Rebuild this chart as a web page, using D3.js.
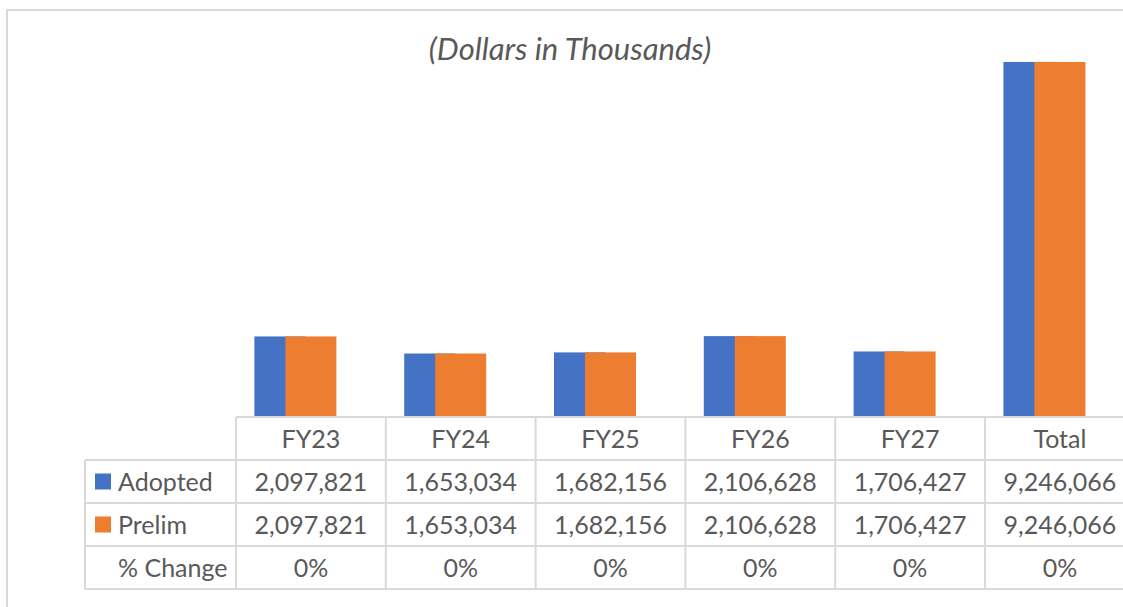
<!DOCTYPE html>
<html>
<head>
<meta charset="utf-8">
<script src="https://cdn.jsdelivr.net/npm/d3@7"></script>
<style>
  body { margin: 0; background: #fff; }
  svg text { font-family: Lato, "Open Sans", sans-serif; fill: #595959; }
</style>
</head>
<body>
<div id="plot"></div>
<script>
var width = 1123;
var height = 607;

// data
var categories = ['FY23', 'FY24', 'FY25', 'FY26', 'FY27', 'Total'];
var adopted = [2097821, 1653034, 1682156, 2106628, 1706427, 9246066];
var prelim  = [2097821, 1653034, 1682156, 2106628, 1706427, 9246066];
var pct_change = ['0%', '0%', '0%', '0%', '0%', '0%'];
var series_names = ['Adopted', 'Prelim', '% Change'];
var series_colors = ['#4472c4', '#ed7d31'];

var baseline = 417;
var row_h = 43;
var col_w = 149.8;
var table_left = 85;
var bar_width = 51;
var grid_color = '#d9d9d9';

var canvas = d3.select('#plot')
    .append('svg')
    .attr('width', width)
    .attr('height', height);

// outer chart frame
canvas.append('rect')
    .attr('x', 7)
    .attr('y', 10)
    .attr('width', width + 20)
    .attr('height', height + 20)
    .attr('fill', 'none')
    .attr('stroke', grid_color)
    .attr('stroke-width', 2);

var x_scale = d3.scaleBand()
    .domain(categories)
    .range([236, 236 + col_w * categories.length])
    .padding(0);

var y_scale = d3.scaleLinear()
    .domain([0, 10000000])
    .range([baseline, baseline - 384]);

canvas.append('text')
    .attr('x', 570)
    .attr('y', 60)
    .attr('text-anchor', 'middle')
    .attr('font-size', 31)
    .attr('font-style', 'italic')
    .text('(Dollars in Thousands)');

function center(d) { return x_scale(d) + x_scale.bandwidth() / 2; }

// adopted bars (drawn first, partially covered)
canvas.selectAll('rect.adopted')
    .data(categories)
    .enter()
    .append('rect')
    .attr('class', 'adopted')
    .attr('x', function(d) { return center(d) - bar_width / 2 - 31; })
    .attr('y', function(d, i) { return y_scale(adopted[i]); })
    .attr('width', bar_width)
    .attr('height', function(d, i) { return baseline - y_scale(adopted[i]); })
    .attr('fill', series_colors[0]);

canvas.selectAll('rect.prelim')
    .data(categories)
    .enter()
    .append('rect')
    .attr('class', 'prelim')
    .attr('x', function(d) { return center(d) - bar_width / 2; })
    .attr('y', function(d, i) { return y_scale(prelim[i]); })
    .attr('width', bar_width)
    .attr('height', function(d, i) { return baseline - y_scale(prelim[i]); })
    .attr('fill', series_colors[1]);

// data table grid
var grid = canvas.append('g')
    .attr('stroke', grid_color)
    .attr('stroke-width', 2);

var right_edge = x_scale.range()[1];
grid.append('line')
    .attr('x1', 236).attr('x2', right_edge)
    .attr('y1', baseline).attr('y2', baseline);
for (var r = 1; r <= 4; r++) {
    grid.append('line')
        .attr('x1', table_left).attr('x2', right_edge)
        .attr('y1', baseline + r * row_h).attr('y2', baseline + r * row_h);
}
grid.append('line')
    .attr('x1', table_left).attr('x2', table_left)
    .attr('y1', baseline + row_h).attr('y2', baseline + 4 * row_h);
categories.forEach(function(c) {
    grid.append('line')
        .attr('x1', x_scale(c)).attr('x2', x_scale(c))
        .attr('y1', baseline).attr('y2', baseline + 4 * row_h);
});

var fmt = d3.format(',');
var rows = [
    categories,
    adopted.map(fmt),
    prelim.map(fmt),
    pct_change
];

rows.forEach(function(row, r) {
    canvas.selectAll('text.row' + r)
        .data(row)
        .enter()
        .append('text')
        .attr('class', 'row' + r)
        .attr('x', function(d, i) { return center(categories[i]); })
        .attr('y', baseline + r * row_h + row_h / 2 + 9)
        .attr('text-anchor', 'middle')
        .attr('font-size', 25)
        .text(function(d) { return d; });
});

// row labels with legend keys
series_names.forEach(function(name, i) {
    var cy = baseline + (i + 1) * row_h + row_h / 2;
    if (i < 2) {
        canvas.append('rect')
            .attr('x', 95)
            .attr('y', cy - 8)
            .attr('width', 16)
            .attr('height', 16)
            .attr('fill', series_colors[i]);
    }
    canvas.append('text')
        .attr('x', 118)
        .attr('y', cy + 9)
        .attr('font-size', 25)
        .text(name);
});
</script>
</body>
</html>
